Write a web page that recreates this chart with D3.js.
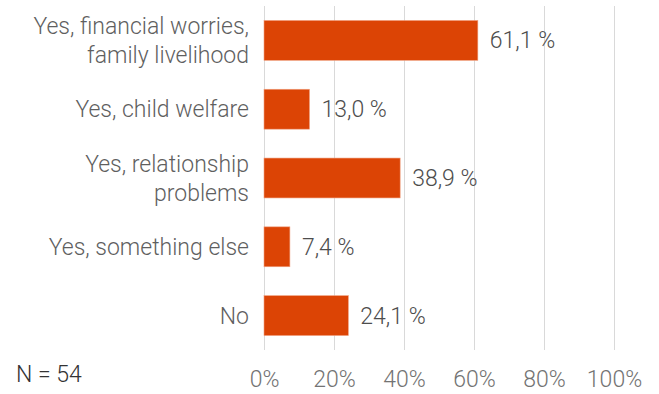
<!DOCTYPE html>
<html>
<head>
<meta charset="utf-8">
<script src="https://cdn.jsdelivr.net/npm/d3@7"></script>
<style>
  body { margin: 0; background: #fff; }
  text { font-family: Roboto, "Noto Sans", sans-serif; font-weight: 300; }
</style>
</head>
<body>
<svg id="chart" width="659" height="394"></svg>
<script>
// categories, each one split into its display lines
let categories = [
  ["Yes, financial worries,", "family livelihood"],
  ["Yes, child welfare"],
  ["Yes, relationship", "problems"],
  ["Yes, something else"],
  ["No"]
];
let values = [61.1, 13.0, 38.9, 7.4, 24.1];
let ticks = [0, 20, 40, 60, 80, 100];
let note = "N = 54";

var margin = {top: 6, left: 264, right: 45, bottom: 44};
var width = 659 - margin.left - margin.right,
    height = 394 - margin.top - margin.bottom;
var fs = "23px";

var svg = d3.select("#chart");
var g = svg.append("g")
    .attr("transform", "translate(" + margin.left + "," + margin.top + ")");

var x = d3.scaleLinear().domain([0, 100]).range([0, width]);
var y = d3.scaleBand()
    .domain(d3.range(values.length))
    .range([0, height])
    .paddingInner(0.42)
    .paddingOuter(0.21);

// gridlines
g.selectAll(".grid")
  .data(ticks)
  .enter().append("line")
  .attr("class", "grid")
  .attr("x1", d => x(d) + 0.5)
  .attr("x2", d => x(d) + 0.5)
  .attr("y1", 0)
  .attr("y2", height)
  .attr("stroke", "#d9d9d9")
  .attr("stroke-width", 1);

// x axis labels
var xAxis = d3.axisBottom(x)
    .tickValues(ticks)
    .tickSize(0)
    .tickPadding(21)
    .tickFormat(d => d + "%");

g.append("g")
  .attr("transform", "translate(0," + height + ")")
  .call(xAxis)
  .call(a => a.select(".domain").remove())
  .selectAll("text")
  .attr("fill", "#737373")
  .style("font-size", fs);

// bars
g.selectAll(".bar")
  .data(values)
  .enter().append("rect")
  .attr("class", "bar")
  .attr("x", x(0))
  .attr("y", (d, i) => y(i))
  .attr("width", d => x(d) - x(0))
  .attr("height", y.bandwidth())
  .attr("fill", "#dc4405")
  .attr("stroke", "#f0a080")
  .attr("stroke-width", 0.6);

// value labels
g.selectAll(".val")
  .data(values)
  .enter().append("text")
  .attr("class", "val")
  .attr("x", d => x(d) + 12)
  .attr("y", (d, i) => y(i) + y.bandwidth() / 2)
  .attr("dy", "0.35em")
  .attr("fill", "#4d4d4d")
  .style("font-size", fs)
  .text(d => d.toFixed(1).replace(".", ",") + " %");

// category labels
var lineH = 29;
var cat = g.selectAll(".cat")
  .data(categories)
  .enter().append("text")
  .attr("class", "cat")
  .attr("text-anchor", "end")
  .attr("fill", "#5f5f5f")
  .style("font-size", fs);

cat.each(function(lines, i) {
  var cy = y(i) + y.bandwidth() / 2;
  var start = cy - (lines.length - 1) * lineH / 2;
  d3.select(this).selectAll("tspan")
    .data(lines)
    .enter().append("tspan")
    .attr("x", -15)
    .attr("y", (d, j) => start + j * lineH)
    .attr("dy", "0.35em")
    .text(d => d);
});

// sample size note
svg.append("text")
  .attr("x", 16)
  .attr("y", 382)
  .attr("fill", "#333")
  .style("font-size", fs)
  .text(note);
</script>
</body>
</html>
